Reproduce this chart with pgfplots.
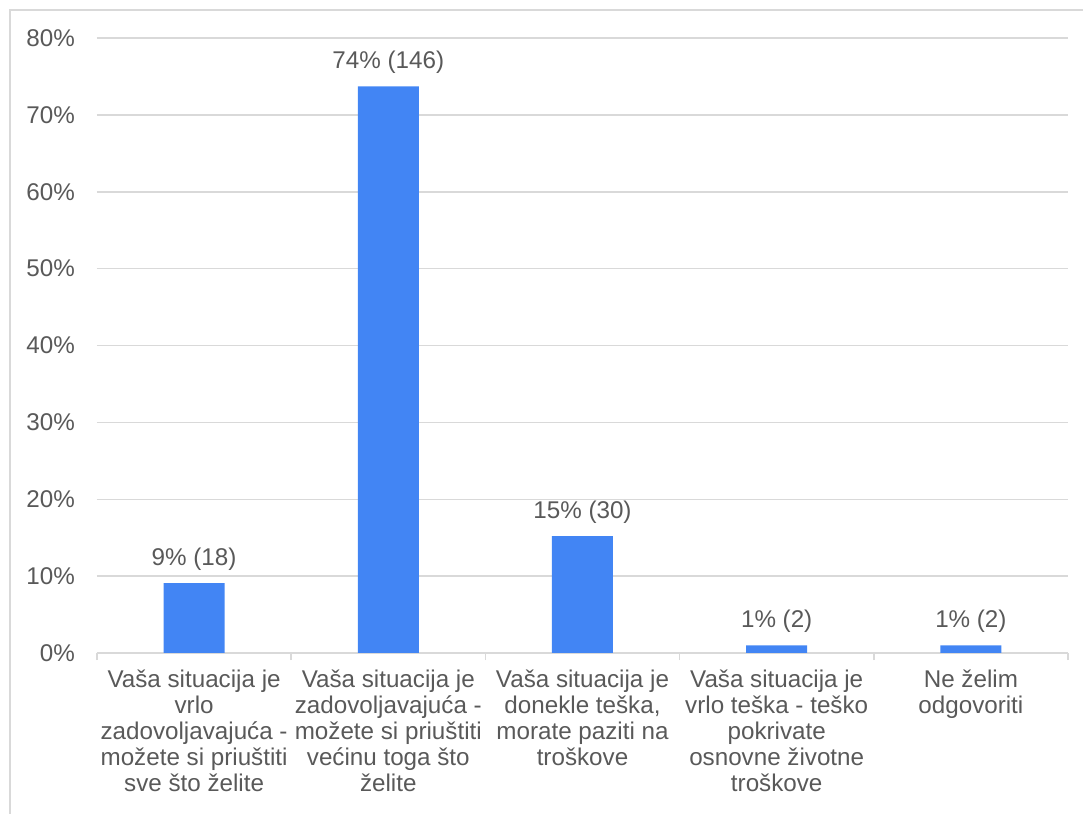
\documentclass[border=0pt]{standalone}
\usepackage{fontspec}
\setmainfont{Liberation Sans}
\usepackage{pgfplots}
\pgfplotsset{compat=1.18}
\definecolor{txt}{HTML}{595959}
\definecolor{gridc}{HTML}{D9D9D9}
\definecolor{barc}{HTML}{4285F4}
\begin{document}
\begin{tikzpicture}
  \begin{axis}[
    scale only axis,
    width=485.5pt, height=307.5pt,
    xmin=-0.5, xmax=4.5,
    ymin=0, ymax=80,
    ytick={0,10,...,80},
    yticklabel={\pgfmathprintnumber{\tick}\%},
    /pgf/number format/assume math mode=true,
    xtick={0,...,4},
    xticklabels={
      {Vaša situacija je\\vrlo\\zadovoljavajuća -\\možete si priuštiti\\sve što želite},
      {Vaša situacija je\\zadovoljavajuća -\\možete si priuštiti\\većinu toga što\\želite},
      {Vaša situacija je\\donekle teška,\\morate paziti na\\troškove},
      {Vaša situacija je\\vrlo teška - teško\\pokrivate\\osnovne životne\\troškove},
      {Ne želim\\odgovoriti}
    },
    xticklabel style={align=center, anchor=north, yshift=-5pt,
      font=\fontsize{12.1pt}{13pt}\selectfont, text=txt},
    yticklabel style={xshift=-7.5pt, font=\fontsize{12.1pt}{13pt}\selectfont, text=txt},
    major tick length=0pt,
    tick pos=left,
    extra x ticks={-0.5,0.5,1.5,2.5,3.5,4.5},
    extra x tick labels={,,,,,},
    extra x tick style={major tick length=3.5pt, tick align=outside,
      tick style={draw=gridc, line width=0.75pt}},
    axis line style={draw=none},
    ymajorgrids,
    grid style={draw=gridc, line width=0.75pt},
    ybar, bar width=30.5pt,
    point meta=explicit symbolic,
    nodes near coords,
    every node near coord/.append style={font=\fontsize{12.1pt}{13pt}\selectfont,
      text=txt, yshift=2.8pt},
  ]
    \addplot[fill=barc, draw=none] coordinates {
      (0,9.1) [9\% (18)]
      (1,73.7) [74\% (146)]
      (2,15.2) [15\% (30)]
      (3,1.0) [1\% (2)]
      (4,1.0) [1\% (2)]
    };
  \end{axis}
  \path[use as bounding box] (-48.5pt,-80.5pt) rectangle (493pt,326.5pt);
  \draw[gridc, line width=0.75pt] (-43.5pt,-81pt) -- (-43.5pt,321.5pt) -- (494pt,321.5pt);
\end{tikzpicture}
\end{document}
